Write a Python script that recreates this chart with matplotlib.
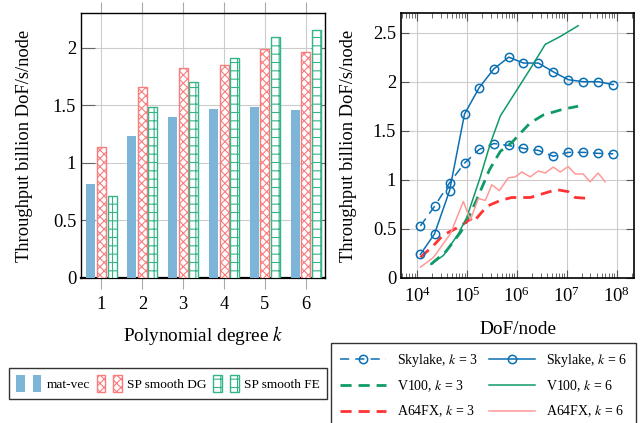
import numpy as np
import matplotlib
matplotlib.use('Agg')
import matplotlib.pyplot as plt
from matplotlib.patches import Rectangle
from matplotlib.legend_handler import HandlerTuple
from matplotlib.ticker import LogLocator, NullFormatter

plt.rcParams['font.family'] = ['Liberation Serif', 'DejaVu Serif']
plt.rcParams['mathtext.fontset'] = 'stix'
plt.rcParams['hatch.linewidth'] = 0.8

# left panel: throughput per polynomial degree
degrees = [1, 2, 3, 4, 5, 6]
matvec = [0.82, 1.23, 1.40, 1.47, 1.48, 1.46]
smooth_dg = [1.14, 1.66, 1.82, 1.85, 1.99, 1.96]
smooth_fe = [0.71, 1.48, 1.70, 1.91, 2.09, 2.15]

# right panel: throughput vs DoF/node
sky_x = [1.17e4, 2.25e4, 4.5e4, 8.97e4, 1.77e5, 3.47e5, 6.92e5, 1.36e6,
         2.71e6, 5.41e6, 1.08e7, 2.15e7, 4.3e7, 8.57e7]
sky_k3 = [0.53, 0.73, 0.97, 1.17, 1.31, 1.37, 1.35, 1.32, 1.30, 1.24,
          1.28, 1.28, 1.27, 1.265]
sky_k6 = [0.24, 0.45, 0.89, 1.67, 1.94, 2.13, 2.25, 2.19, 2.19, 2.10,
          2.02, 2.00, 2.00, 1.97]

v100_k3_x = [1.905e4, 3.802e4, 7.586e4, 1e5, 1.585e5, 2.818e5, 4.677e5,
             7.943e5, 1.259e6, 1.862e6, 3.388e6, 8.511e6, 1.698e7]
v100_k3 = [0.14, 0.27, 0.47, 0.58, 0.80, 1.10, 1.29, 1.38, 1.49, 1.58,
           1.66, 1.72, 1.75]
v100_k6_x = [1.905e4, 3.388e4, 6.761e4, 1e5, 1.862e5, 2.951e5, 4.677e5,
             9.333e5, 1.862e6, 3.715e6, 7.413e6, 1.698e7]
v100_k6 = [0.14, 0.23, 0.45, 0.62, 1.03, 1.37, 1.65, 1.89, 2.13, 2.38,
           2.46, 2.57]

a64_k3_x = [1.175e4, 2.138e4, 3.388e4, 5.370e4, 8.511e4, 1.175e5, 1.349e5,
            2.512e5, 4.677e5, 7.943e5, 1.862e6, 3.388e6, 6.310e6, 1.072e7,
            1.479e7, 2.951e7]
a64_k3 = [0.21, 0.33, 0.44, 0.49, 0.55, 0.60, 0.57, 0.73, 0.79, 0.82,
          0.82, 0.86, 0.90, 0.88, 0.82, 0.81]
a64_k6_x = [1.175e4, 2.138e4, 4.677e4, 8.511e4, 1.175e5, 1.698e5, 2.344e5,
            3.162e5, 4.467e5, 6.761e5, 9.333e5, 1.259e6, 1.862e6, 2.692e6,
            3.715e6, 5.370e6, 7.413e6, 1.072e7, 1.479e7, 2.138e7, 2.951e7,
            4.266e7, 5.888e7]
a64_k6 = [0.11, 0.21, 0.45, 0.78, 0.59, 0.81, 0.79, 0.95, 0.89, 1.02,
          1.03, 1.08, 1.03, 1.09, 1.07, 1.13, 1.08, 1.135, 1.06, 1.06,
          0.98, 1.07, 0.98]

ytick_vals = [0, 0.5, 1, 1.5, 2, 2.5]
ytick_labels = ['0', '0.5', '1', '1.5', '2', '2.5']

blue_bar = '#7db5d8'
red_bar = '#f87c7c'
green_bar = '#35b487'
c_sky = '#0b6fb4'
c_v100 = '#0f9a66'
c_a64 = '#ff3333'
c_a64_6 = '#ff9a9a'

fig = plt.figure(figsize=(6.41, 4.23), dpi=100)
ax1 = fig.add_axes([0.1264, 0.3428, 0.3807, 0.6265])
ax2 = fig.add_axes([0.6256, 0.3428, 0.3635, 0.6265])

fs = 13.3

# ----- left: bars
x = np.array(degrees)
w = 0.22
ax1.bar(x - 0.26, matvec, w, color=blue_bar, edgecolor='none', zorder=3)
ax1.bar(x, smooth_dg, w, color='white', edgecolor=red_bar, hatch='xxxx',
        linewidth=1.0, zorder=3)
ax1.bar(x + 0.26, smooth_fe, w, color='white', edgecolor=green_bar, hatch='++',
        linewidth=1.0, zorder=3)
ax1.set_xlim(0.5, 6.47)
ax1.set_ylim(0, 2.3)
ax1.set_xticks(degrees)
ax1.set_yticks(ytick_vals[:5])
ax1.set_yticklabels(ytick_labels[:5])
ax1.grid(True, color='#cccccc', linewidth=0.8, zorder=0)
ax1.set_axisbelow(True)
ax1.tick_params(axis='x', direction='out', length=8, color='#aaaaaa',
                top=True, labelsize=fs, pad=5)
ax1.tick_params(axis='y', direction='in', length=10, color='#666666',
                right=True, labelsize=fs)
ax1.set_xlabel('Polynomial degree $k$', fontsize=fs + 0.6, labelpad=8)
ax1.set_ylabel('Throughput billion DoF/s/node', fontsize=fs)
ax1.yaxis.set_label_coords(-0.195, 0.5)
for s in ax1.spines.values():
    s.set_linewidth(1.0)
ax1.spines['bottom'].set_linewidth(1.6)

# ----- right: lines
ax2.plot(sky_x, sky_k3, color=c_sky, linestyle=(0, (6, 4)), linewidth=1.1,
         marker='o', markersize=6, markerfacecolor='none', markeredgewidth=1.1,
         label='Skylake, $k$ = 3')
ax2.plot(v100_k3_x, v100_k3, color=c_v100, linestyle=(0, (4, 2.5)),
         linewidth=2.0, label='V100, $k$ = 3')
ax2.plot(a64_k3_x, a64_k3, color=c_a64, linestyle=(0, (4, 2.5)),
         linewidth=2.0, label='A64FX, $k$ = 3')
ax2.plot(sky_x, sky_k6, color=c_sky, linewidth=1.1, marker='o', markersize=6,
         markerfacecolor='none', markeredgewidth=1.1, label='Skylake, $k$ = 6')
ax2.plot(v100_k6_x, v100_k6, color=c_v100, linewidth=1.1,
         label='V100, $k$ = 6')
ax2.plot(a64_k6_x, a64_k6, color=c_a64_6, linewidth=1.1,
         label='A64FX, $k$ = 6')
ax2.set_xscale('log')
ax2.set_xlim(10 ** 3.68, 10 ** 8.35)
ax2.set_ylim(0, 2.7)
ax2.set_xticks([1e4, 1e5, 1e6, 1e7, 1e8])
ax2.xaxis.set_minor_locator(LogLocator(base=10, subs=np.arange(2, 10), numticks=20))
ax2.xaxis.set_minor_formatter(NullFormatter())
ax2.set_yticks(ytick_vals)
ax2.set_yticklabels(ytick_labels)
ax2.grid(True, which='major', color='#cccccc', linewidth=0.8)
ax2.set_axisbelow(True)
ax2.tick_params(which='major', direction='in', length=6, color='#555555',
                top=True, right=True, labelsize=fs)
ax2.tick_params(which='minor', direction='in', length=3.5, color='#555555',
                top=True)
ax2.tick_params(axis='x', which='major', pad=6)
ax2.set_xlabel('DoF/node', fontsize=fs + 0.6, labelpad=11)
ax2.set_ylabel('Throughput billion DoF/s/node', fontsize=fs)
ax2.yaxis.set_label_coords(-0.19, 0.5)
for s in ax2.spines.values():
    s.set_linewidth(1.2)

# ----- legends
def pair(**kw):
    return (Rectangle((0, 0), 1, 1, **kw), Rectangle((0, 0), 1, 1, **kw))

h_mv = pair(facecolor=blue_bar, edgecolor='none')
h_dg = pair(facecolor='white', edgecolor=red_bar, hatch='xxxx', linewidth=1.0)
h_fe = pair(facecolor='white', edgecolor=green_bar, hatch='++', linewidth=1.0)
fig.legend([h_mv, h_dg, h_fe], ['mat-vec', 'SP smooth DG', 'SP smooth FE'],
           handler_map={tuple: HandlerTuple(ndivide=None, pad=0.6)},
           loc='center', bbox_to_anchor=(0.262, 0.0934), ncol=3,
           fontsize=9.6, frameon=True, fancybox=False, edgecolor='black',
           handlelength=1.9, handleheight=1.6, columnspacing=0.5,
           handletextpad=0.4, borderpad=0.5)

h, l = ax2.get_legend_handles_labels()
fig.legend(h, l, loc='upper center', bbox_to_anchor=(0.755, 0.189),
           borderaxespad=0, ncol=2, fontsize=10, frameon=True, fancybox=False,
           edgecolor='black', handlelength=3.3, columnspacing=0.8,
           handletextpad=0.8, borderpad=0.65, labelspacing=0.68)

fig.savefig('out.png', dpi=100)
